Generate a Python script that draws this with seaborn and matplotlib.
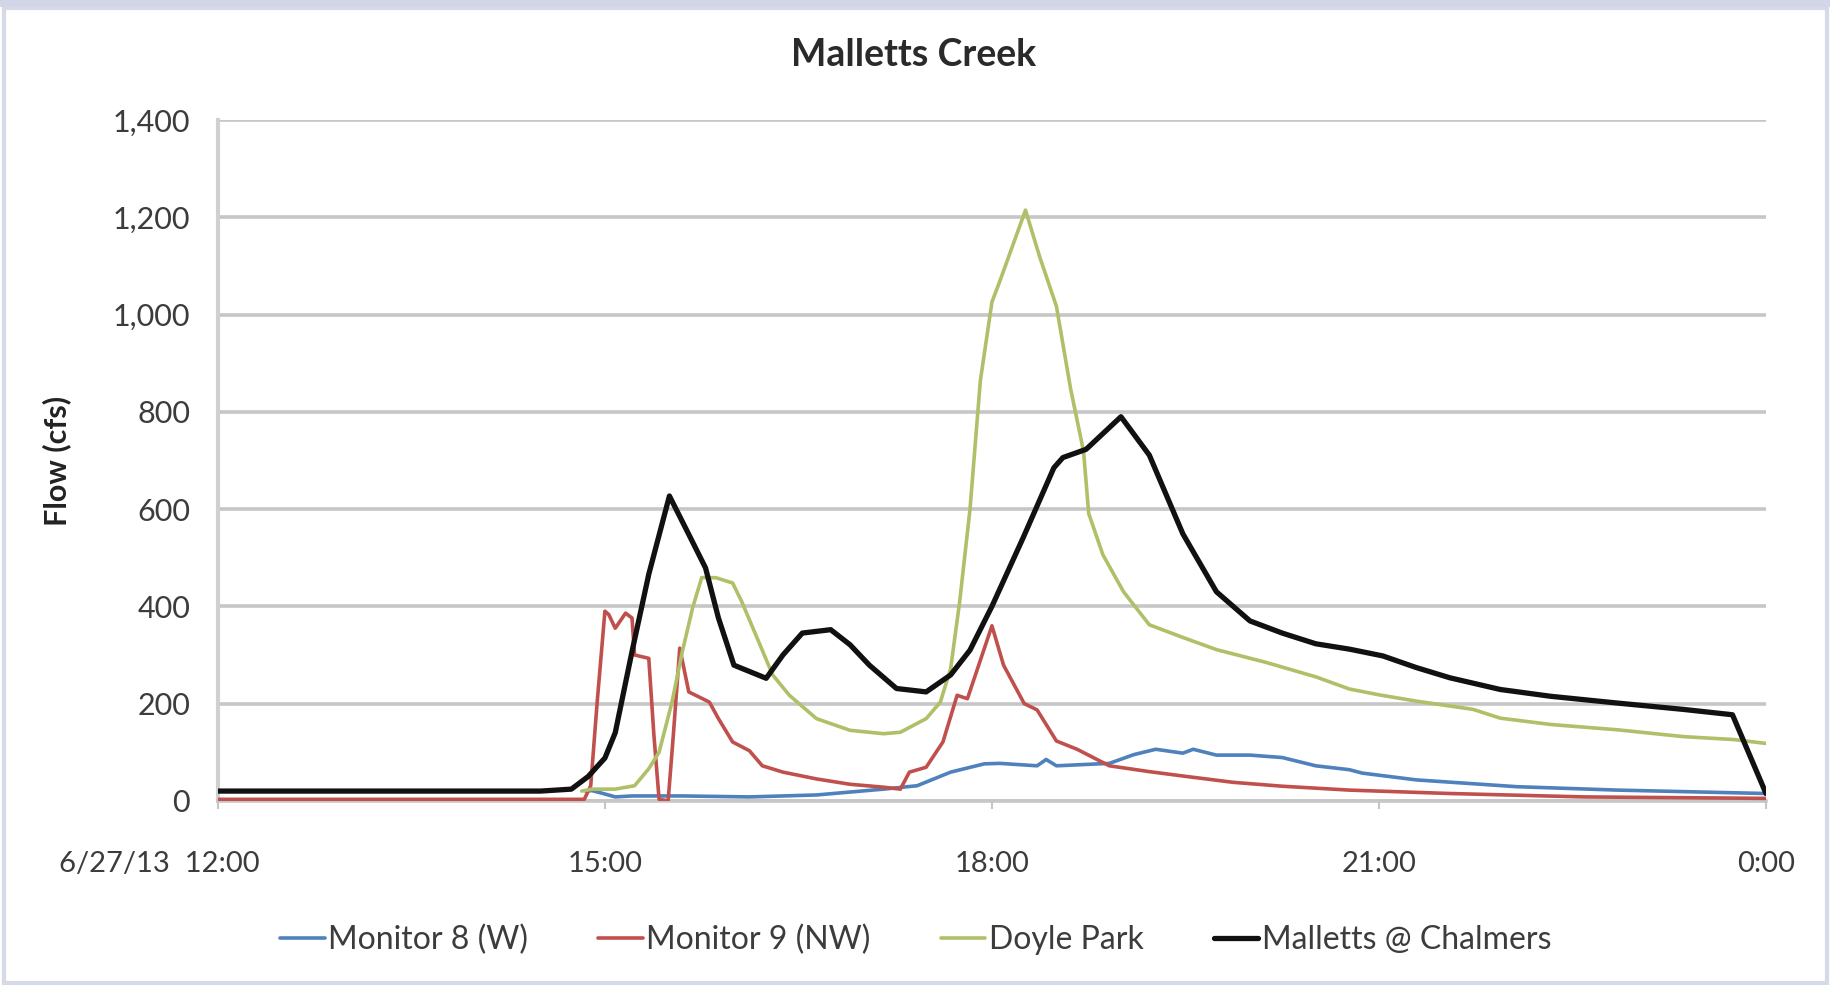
import matplotlib
matplotlib.use("Agg")
import matplotlib.pyplot as plt
import matplotlib.transforms as mtransforms
from matplotlib.patches import Rectangle
import seaborn as sns

# ---------------- data (hours of 6/27/13, flow in cfs) ----------------
series_names = ["Monitor 8 (W)", "Monitor 9 (NW)", "Doyle Park", "Malletts @ Chalmers"]

m8_t = [14.85, 14.9, 15.0, 15.08, 15.21, 15.6, 16.12, 16.64, 17.16, 17.42, 17.68, 17.94,
        18.06, 18.35, 18.42, 18.5, 18.91, 19.1, 19.27, 19.48, 19.56, 19.74, 20.0, 20.25,
        20.51, 20.77, 20.87, 21.29, 22.07, 22.85, 24.0]
m8_v = [20, 21, 14, 8, 10, 10, 8, 12, 24, 31, 59, 76,
        77, 72, 85, 72, 77, 95, 106, 98, 106, 94, 94, 89,
        72, 64, 57, 43, 29, 22, 15]

m9_t = [12.0, 14.84, 14.89, 14.94, 15.0, 15.03, 15.08, 15.16, 15.21, 15.23, 15.34, 15.38,
        15.42, 15.49, 15.53, 15.58, 15.65, 15.81, 15.88, 15.99, 16.12, 16.22, 16.38, 16.64,
        16.9, 17.16, 17.29, 17.36, 17.49, 17.62, 17.73, 17.81, 18.0, 18.09, 18.25, 18.35,
        18.5, 18.66, 18.91, 19.22, 19.48, 19.87, 20.25, 20.77, 21.55, 22.59, 24.0]
m9_v = [3, 3, 31, 203, 390, 383, 355, 386, 376, 300, 293, 134,
        3, 0, 134, 314, 224, 203, 169, 121, 103, 72, 59, 45,
        34, 28, 24, 59, 69, 121, 217, 210, 360, 279, 200, 187,
        123, 106, 72, 60, 51, 38, 30, 22, 15, 8, 5]

doyle_t = [14.82, 14.9, 15.08, 15.23, 15.34, 15.42, 15.52, 15.6, 15.68, 15.75, 15.86, 15.99,
           16.06, 16.17, 16.3, 16.43, 16.64, 16.9, 17.16, 17.29, 17.49, 17.6, 17.68, 17.75,
           17.83, 17.91, 18.0, 18.06, 18.26, 18.37, 18.5, 18.61, 18.71, 18.75, 18.86, 19.02,
           19.22, 19.48, 19.74, 20.12, 20.51, 20.77, 21.0, 21.29, 21.73, 21.94, 22.33, 22.85,
           23.36, 23.75, 24.0]
doyle_v = [20, 24, 24, 31, 66, 100, 203, 307, 397, 459, 459, 448,
           410, 341, 259, 217, 169, 145, 138, 141, 169, 203, 272, 410,
           600, 864, 1026, 1068, 1215, 1119, 1017, 847, 719, 591, 506, 430,
           362, 336, 311, 285, 255, 230, 218, 205, 188, 170, 157, 146,
           132, 126, 118]

chal_t = [12.0, 14.5, 14.74, 14.87, 15.0, 15.08, 15.21, 15.34, 15.5, 15.65, 15.78, 15.88,
          16.0, 16.25, 16.38, 16.53, 16.75, 16.9, 17.05, 17.26, 17.49, 17.68, 17.83, 18.0,
          18.24, 18.48, 18.55, 18.73, 19.0, 19.22, 19.48, 19.74, 20.0, 20.25, 20.51, 20.77,
          21.03, 21.29, 21.55, 21.94, 22.33, 22.85, 23.36, 23.74, 24.0]
chal_v = [20, 20, 24, 50, 88, 140, 307, 466, 627, 548, 479, 376,
          279, 252, 300, 345, 352, 321, 279, 231, 224, 259, 310, 400,
          540, 685, 706, 723, 790, 711, 549, 430, 370, 345, 323, 312,
          298, 274, 253, 229, 215, 201, 188, 177, 15]

x_ticks = [12, 15, 18, 21, 24]
x_tick_labels = ["6/27/13  12:00", "15:00", "18:00", "21:00", "0:00"]
y_ticks = [0, 200, 400, 600, 800, 1000, 1200, 1400]
y_tick_labels = ["0", "200", "400", "600", "800", "1,000", "1,200", "1,400"]

colors = ["#4F81BD", "#C0504D", "#AEC068", "#111111"]
widths = [2.6, 2.6, 2.6, 3.8]

# ---------------- figure ----------------
sns.set_theme(style="white")
plt.rcParams["font.family"] = ["Lato", "DejaVu Sans"]
text_color = "#3c3c3c"

fig = plt.figure(figsize=(18.31, 9.85), dpi=100)
fig.patch.set_facecolor("white")
ax = fig.add_axes([0.119, 0.187, 0.8455, 0.691])

all_t = [m8_t, m9_t, doyle_t, chal_t]
all_v = [m8_v, m9_v, doyle_v, chal_v]
for t, v, name, c, w in zip(all_t, all_v, series_names, colors, widths):
    sns.lineplot(x=t, y=v, color=c, linewidth=w, label=name, ax=ax, sort=False,
                 estimator=None, zorder=3)

ax.set_xlim(12, 24)
ax.set_ylim(0, 1400)
ax.set_yticks(y_ticks)
ax.set_yticklabels(y_tick_labels)
ax.set_xticks(x_ticks)
ax.set_xticklabels(x_tick_labels)

ax.yaxis.grid(True, color="#c6c6c6", linewidth=2.6, zorder=0)
ax.xaxis.grid(False)
for s in ["top", "right"]:
    ax.spines[s].set_visible(False)
ax.spines["left"].set_color("#d0d0d0")
ax.spines["left"].set_linewidth(3)
ax.spines["bottom"].set_color("#c6c6c6")
ax.spines["bottom"].set_linewidth(2.6)

ax.tick_params(axis="y", length=0, pad=20, labelsize=22, labelcolor=text_color)
ax.tick_params(axis="x", direction="out", length=6, width=1.5, color="#c6c6c6",
               pad=30, labelsize=21, labelcolor=text_color, bottom=True)

# first label: keep "12:00" centred on its tick
lbl0 = ax.get_xticklabels()[0]
lbl0.set_horizontalalignment("right")
lbl0.set_transform(lbl0.get_transform() +
                   mtransforms.ScaledTranslation(0.42, 0, fig.dpi_scale_trans))

ax.set_ylabel("Flow (cfs)", fontsize=22, fontweight="bold", color="#222222", labelpad=30)
ax.set_xlabel("")
fig.text(0.499, 0.944, "Malletts Creek", ha="center", va="center",
         fontsize=27, fontweight="bold", color="#2a2a2a")

leg = ax.legend(loc="center", bbox_to_anchor=(0.5, 0.046), bbox_transform=fig.transFigure,
                ncol=4, frameon=False, fontsize=23, handlelength=1.4, handletextpad=0.1,
                columnspacing=2.2)
for txt in leg.get_texts():
    txt.set_color(text_color)

# light frame around the chart
fig.add_artist(Rectangle((0.002, 0.002), 0.996, 0.99, transform=fig.transFigure,
                         fill=False, edgecolor="#d6d9e8", linewidth=3))
fig.add_artist(Rectangle((0, 0.993), 1, 0.007, transform=fig.transFigure,
                         facecolor="#d3d6e6", edgecolor="none"))

fig.savefig("out.png", dpi=100)
